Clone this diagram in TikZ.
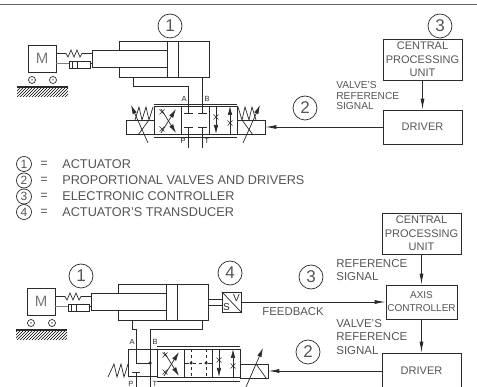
\documentclass[tikz,border=0pt]{standalone}
\usepackage{fontspec}
\setmainfont{Liberation Sans}
\usetikzlibrary{arrows.meta,patterns}
\definecolor{inkgray}{HTML}{555555}
\definecolor{linegray}{HTML}{2A2A2A}
\newcommand{\fs}[2]{\fontsize{#1}{#2}\selectfont}
\newcommand{\carriage}{
	\node[block,minimum width=28pt,minimum height=27pt,text=inkgray!80,font=\fs{15}{18}] (m) at (42,58.5) {M};
	\node[wheel] (w1) at (32,80) {};
	\node[wheel] (w2) at (53,80) {};
	\node[dot,minimum size=1.5pt] at (w1) {};
	\node[dot,minimum size=1.5pt] at (w2) {};
	\fill[pattern=north east lines,pattern color=black] (17,88) rectangle (68,97);
	\draw[line width=2pt] (17,87.5) -- (68,87.5);
	\node[block,minimum width=75pt,minimum height=17pt] (rod) at (129.5,58.5) {};
	\draw (56,53.5) -- (66,53.5) -- (68,57) -- (71,50) -- (74,57) -- (77,50) -- (80,57) -- (82,53.5) -- (92,53.5);
	\draw[line width=1.2pt,gray] (m.east |- 0,63.5) -- (69,63.5);
	\node[block,minimum width=21pt,minimum height=7pt] (damp) at (79.5,64.5) {};
	\draw (72,61) -- (72,68);
	\draw[line width=1.6pt] (77.5,61) -- (77.5,68);
	\draw (90,63.5) -- (92,63.5);
	\draw (119,50) -- (119,41) -- (209,41) -- (209,77) -- (119,77) -- (119,67);
	\draw (167,41) -- (167,77);
	\draw (178,41) -- (178,77);
}
\newcommand{\spool}{
	\node[block,minimum width=83pt,minimum height=28pt] (body) at (195.5,120) {};
	\draw (181,106) -- (181,134);
	\draw (209,106) -- (209,134);
	\draw[line width=1pt] (154,106) -- (154,134);
	\draw[flow] (161,109) -- (176,133);
	\draw[flow] (161,133) -- (176,109);
	\draw[flow] (216,106) -- (216,134);
	\draw[flow] (230,134) -- (230,106);
	\throttle{162}{112}
	\throttle{162}{129}
	\throttle{216}{117}
	\throttle{230}{123}
}
\newcommand{\throttle}[2]{
	\draw (#1-2.5,#2-2.5) -- (#1+2.5,#2+2.5);
	\draw (#1-2.5,#2+2.5) -- (#1+2.5,#2-2.5);
}
\begin{document}
\begin{tikzpicture}[x=1pt,y=-1pt,draw=linegray,line width=0.7pt]
	\tikzstyle{block}=[rectangle,draw=linegray,inner sep=0pt,align=center,text=inkgray]
	\tikzstyle{bubble}=[circle,draw=linegray,minimum size=24pt,inner sep=0pt,text=inkgray,font=\fs{17}{18}]
	\tikzstyle{small bubble}=[circle,draw=linegray,minimum size=15pt,inner sep=0pt,text=inkgray,font=\fs{12}{13}]
	\tikzstyle{wheel}=[circle,draw=linegray,minimum size=7pt,inner sep=0pt]
	\tikzstyle{dot}=[circle,fill=linegray,minimum size=3.5pt,inner sep=0pt]
	\tikzstyle{caption}=[anchor=west,inner sep=0pt,text=inkgray,align=left]
	\tikzstyle{port}=[inner sep=0pt,text=linegray,font=\fs{7.5}{8}]
	\tikzstyle{sig}=[-{Latex[length=11pt,width=4pt]},line width=0.8pt]
	\tikzstyle{flow}=[-{Latex[length=9pt,width=4.5pt]}]
	\useasboundingbox (0,0) rectangle (477,387);
	\coordinate (ruleL) at (0,4.5);
	\coordinate (ruleR) at (477,4.5);
	\draw[line width=1pt,gray!80!black] (ruleL) -- (ruleR);

	\begin{scope}[name prefix=top-]
		\carriage
		\spool
	\end{scope}
	\node[bubble] (n1a) at (170,26) {1};
	\node[bubble] (n3a) at (440,26) {3};
	\node[bubble] (n2a) at (305,108) {2};
	\coordinate (a1) at (133,77);
	\coordinate (b1) at (202,77);
	\coordinate (a2) at (188,113);
	\coordinate (b2) at (202,113);
	\coordinate (p1) at (188,127);
	\coordinate (t1) at (202,127);
	\coordinate (p2) at (188,148);
	\coordinate (t2) at (202,148);
	\draw (a1) |- (188,86) -- (a2);
	\draw (b1) -- (b2);
	\draw (p1) -- (p2);
	\draw (t1) -- (t2);
	\draw (184,113) -- (193,113);
	\draw (198,113) -- (207,113);
	\draw (184,127) -- (193,127);
	\draw (198,127) -- (207,127);
	\draw (154,104) -- (237,104);
	\draw (154,137) -- (237,137);
	\node[port] (la) at (184,98.5) {A};
	\node[port] (lb) at (207,98.5) {B};
	\node[port] (lp) at (183,141) {P};
	\node[port] (lt) at (207,141) {T};
	\node[block,minimum width=28pt,minimum height=14pt] (sola) at (140,127) {};
	\node[block,minimum width=28pt,minimum height=14pt] (solb) at (251,127) {};
	\draw (135,120) -- (139,107) -- (142,120) -- (146,107) -- (149,120) -- (153,107);
	\draw (256,120) -- (252,107) -- (249,120) -- (245,107) -- (242,120) -- (238,107);
	\draw[flow] (148,143) -- (131,105);
	\draw[flow] (243,143) -- (260,105);
	\draw (138,135) -- (149,120);
	\draw (253,135) -- (242,120);
	\node[block,minimum width=79pt,minimum height=41pt,font=\fs{11}{13.7}] (cpua) at (422.5,59.5) {CENTRAL\\PROCESSING\\UNIT};
	\node[block,minimum width=79pt,minimum height=34pt,font=\fs{11}{13}] (drva) at (422.5,127) {DRIVER};
	\draw[sig] (cpua) -- (drva);
	\draw[sig] (drva) -- (solb);
	\node[caption,font=\fs{10.2}{10.6}] (vrsa) at (336,95.5) {VALVE'S\\REFERENCE\\SIGNAL};

	\node[small bubble] (k1) at (24,164) {1};
	\node[small bubble] (k2) at (24,180.5) {2};
	\node[small bubble] (k3) at (24,196.5) {3};
	\node[small bubble] (k4) at (24,212) {4};
	\node[caption,font=\fs{12.7}{14}] (e1) at (40,164) {=};
	\node[caption,font=\fs{12.7}{14}] (e2) at (40,180.5) {=};
	\node[caption,font=\fs{12.7}{14}] (e3) at (40,196.5) {=};
	\node[caption,font=\fs{12.7}{14}] (e4) at (40,212) {=};
	\node[caption,font=\fs{12.7}{14}] (tx1) at (62,164) {ACTUATOR};
	\node[caption,font=\fs{12.7}{14}] (tx2) at (62,180.5) {PROPORTIONAL VALVES AND DRIVERS};
	\node[caption,font=\fs{12.7}{14}] (tx3) at (62,196.5) {ELECTRONIC CONTROLLER};
	\node[caption,font=\fs{12.7}{14}] (tx4) at (62,212) {ACTUATOR'S TRANSDUCER};

	\begin{scope}[name prefix=bot-,shift={(-1,243)}]
		\carriage
	\end{scope}
	\begin{scope}[name prefix=bot-,shift={(3,243)}]
		\spool
	\end{scope}
	\node[bubble] (n1b) at (81,276) {1};
	\node[bubble] (n4b) at (230,273) {4};
	\node[bubble] (n3b) at (311,277) {3};
	\node[bubble] (n2b) at (308,352) {2};
	\node[block,minimum width=29pt,minimum height=27pt] (endb) at (142.5,362.5) {};
	\coordinate (a3) at (132,320);
	\coordinate (b3) at (202,320);
	\coordinate (a4) at (150,363);
	\coordinate (t3b) at (150,387);
	\coordinate (p3) at (136,372);
	\coordinate (p4) at (136,387);
	\draw (a3) -- (132,329) -- (136,329) |- (a4);
	\draw (b3) -- (202,329) -- (150,329) -- (t3b);
	\draw (p3) -- (p4);
	\draw (132,372) -- (140,372);
	\node[dot] (dj) at (a4) {};
	\draw (157,346) -- (240,346);
	\draw (157,381) -- (240,381);
	\draw (108,377) -- (114,364) -- (117,377) -- (121,364) -- (124,377) -- (128,364);
	\draw[dashed] (191,349) -- (191,376);
	\draw[dashed] (206,349) -- (206,376);
	\node[dot] (d1) at (191,363) {};
	\node[dot] (d2) at (206,363) {};
	\draw (185,363) -- (d1);
	\draw[dashed] (d1) -- (d2);
	\draw (d2) -- (212,363);
	\node[port] (la2) at (132,342) {A};
	\node[port] (lb2) at (155,342) {B};
	\node[port] (lp2) at (131,384) {P};
	\node[port] (lt2) at (155,384) {T};
	\node[block,minimum width=28pt,minimum height=14pt] (solc) at (254,371) {};
	\draw[flow] (246,387) -- (263,348);
	\draw (256,364) -- (266,378);
	\node[block,minimum width=19pt,minimum height=20pt] (trans) at (231.5,302) {};
	\draw (trans.north west) -- (trans.south east);
	\node[port,font=\fs{10}{10}] (tv) at (236.5,298) {V};
	\node[port,font=\fs{10}{10}] (ts) at (226.5,307) {S};
	\draw (208,299) -- (222,299);
	\draw (208,305) -- (222,305);
	\node[block,minimum width=79pt,minimum height=41pt,font=\fs{11}{13.7}] (cpub) at (421.5,233.5) {CENTRAL\\PROCESSING\\UNIT};
	\node[block,minimum width=71pt,minimum height=34pt,font=\fs{10}{13}] (axis) at (421.5,302) {AXIS\\CONTROLLER};
	\node[block,minimum width=79pt,minimum height=36pt,font=\fs{11}{13}] (drvb) at (421.5,371) {DRIVER};
	\draw[sig] (cpub) -- (axis);
	\draw[sig] (axis) -- (drvb);
	\draw[sig] (trans) -- (axis);
	\draw[sig] (drvb) -- (solc);
	\node[caption,font=\fs{11.4}{13.7}] (fb) at (262,312) {FEEDBACK};
	\node[caption,font=\fs{11.5}{13.7}] (rsb) at (336,270) {REFERENCE\\SIGNAL};
	\node[caption,font=\fs{11.5}{13.7}] (vrsb) at (336,337) {VALVE'S\\REFERENCE\\SIGNAL};
\end{tikzpicture}
\end{document}
